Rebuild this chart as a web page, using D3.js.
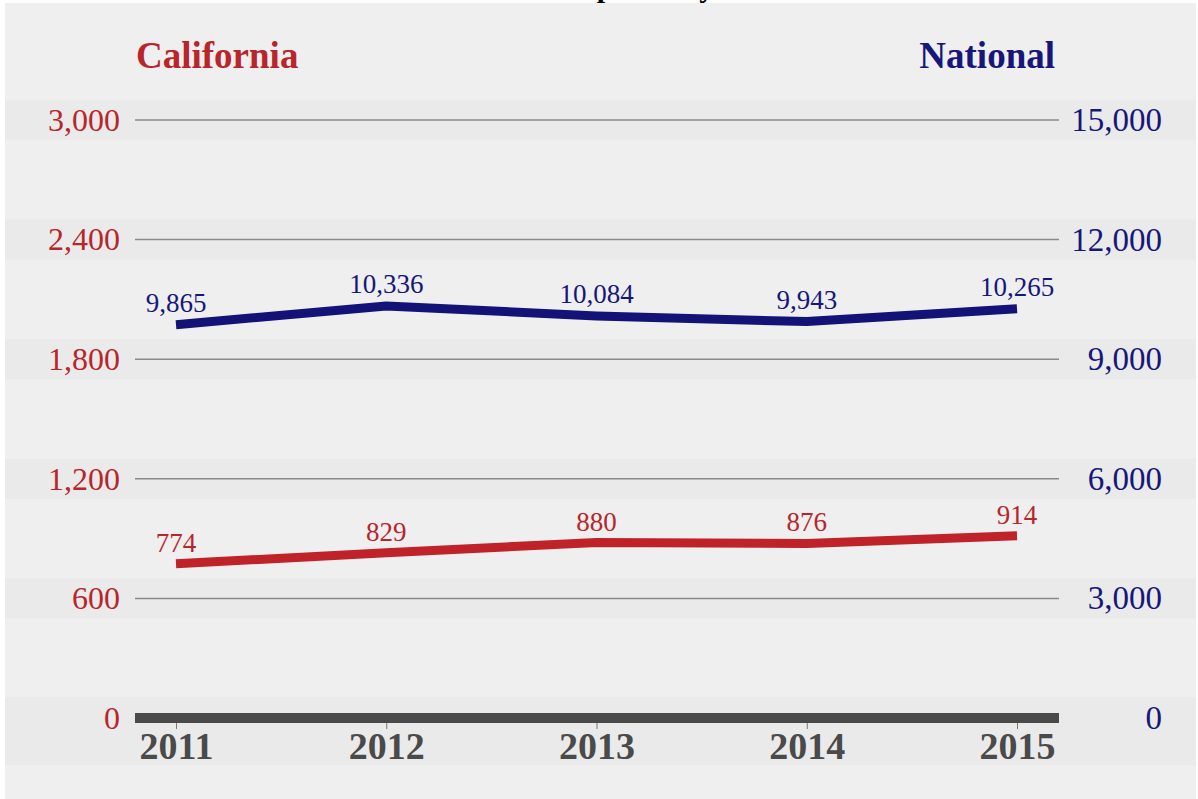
<!DOCTYPE html>
<html>
<head>
<meta charset="utf-8">
<script src="https://cdn.jsdelivr.net/npm/d3@7"></script>
<style>
  html, body { margin: 0; padding: 0; background: #fff; }
  svg { display: block; }
</style>
</head>
<body>
<div id="chart"></div>
<script>
const years = ["2011", "2012", "2013", "2014", "2015"];
const california = [774, 829, 880, 876, 914];
const national = [9865, 10336, 10084, 9943, 10265];
const leftTicks = [0, 600, 1200, 1800, 2400, 3000];
const rightTicks = [0, 3000, 6000, 9000, 12000, 15000];

const width = 1198, height = 799;
const red = "#b8252b", navy = "#17177a", dark = "#4a4a4a";
const serif = "'Liberation Serif', 'Times New Roman', serif";

const svg = d3.select("#chart").append("svg")
    .attr("width", width)
    .attr("height", height);

// background panel
svg.append("rect")
    .attr("x", 5).attr("y", 3)
    .attr("width", width - 7).attr("height", height - 3)
    .attr("fill", "#efefef");

const plotLeft = 135, plotRight = 1059;

const x = d3.scalePoint().domain(years).range([176, 1017]);
const yL = d3.scaleLinear().domain([0, 3000]).range([718, 120]);
const yR = d3.scaleLinear().domain([0, 15000]).range([718, 120]);

// faint bands around gridlines
const gBands = svg.append("g");
gBands.selectAll("rect")
    .data(leftTicks.filter(d => d > 0))
    .enter().append("rect")
    .attr("x", 5).attr("width", width - 7)
    .attr("y", d => yL(d) - 20).attr("height", 40)
    .attr("fill", "#eaeaea");
gBands.append("rect")
    .attr("x", 5).attr("width", width - 7)
    .attr("y", yL(0) - 21).attr("height", 68)
    .attr("fill", "#eaeaea");

// title, cut by the top edge as in the source image
svg.append("text")
    .attr("x", 600).attr("y", -3)
    .attr("text-anchor", "middle")
    .style("font-family", serif).style("font-weight", "bold")
    .style("font-size", "30px").attr("fill", "#000")
    .text("Finalized Adoptions by Year");

// series titles
svg.append("text")
    .attr("x", 136).attr("y", 68)
    .style("font-family", serif).style("font-weight", "bold")
    .style("font-size", "37px").attr("fill", red)
    .text("California");
svg.append("text")
    .attr("x", 1055).attr("y", 68)
    .attr("text-anchor", "end")
    .style("font-family", serif).style("font-weight", "bold")
    .style("font-size", "37px").attr("fill", navy)
    .text("National");

// gridlines
svg.append("g").selectAll("line")
    .data(leftTicks.filter(d => d > 0))
    .enter().append("line")
    .attr("x1", plotLeft).attr("x2", plotRight)
    .attr("y1", d => yL(d)).attr("y2", d => yL(d))
    .attr("stroke", "#8a8a8a").attr("stroke-width", 1.5);

// left axis
const axisL = svg.append("g")
    .attr("transform", `translate(${plotLeft},0)`)
    .call(d3.axisLeft(yL).tickValues(leftTicks).tickSize(0).tickPadding(15).tickFormat(d3.format(",")));
axisL.select(".domain").remove();
axisL.selectAll("text")
    .style("font-family", serif).style("font-size", "32px")
    .attr("fill", red);

// right axis
const axisR = svg.append("g")
    .attr("transform", `translate(1162,0)`)
    .call(d3.axisLeft(yR).tickValues(rightTicks).tickSize(0).tickPadding(0).tickFormat(d3.format(",")));
axisR.select(".domain").remove();
axisR.selectAll("text")
    .style("font-family", serif).style("font-size", "33px")
    .attr("fill", navy);

// bottom axis: thick bar, ticks, bold year labels
svg.append("rect")
    .attr("x", plotLeft).attr("y", yL(0) - 5)
    .attr("width", plotRight - plotLeft).attr("height", 10)
    .attr("fill", dark);
const axisB = svg.append("g")
    .attr("transform", `translate(0,${yL(0) + 5})`)
    .call(d3.axisBottom(x).tickSize(6).tickPadding(3));
axisB.select(".domain").remove();
axisB.selectAll("line").attr("stroke", "#777");
axisB.selectAll("text")
    .style("font-family", serif).style("font-weight", "bold")
    .style("font-size", "38px").attr("fill", dark);

// lines
const lineL = d3.line().x((d, i) => x(years[i])).y(d => yL(d));
const lineR = d3.line().x((d, i) => x(years[i])).y(d => yR(d));

svg.append("path")
    .datum(california)
    .attr("d", lineL)
    .attr("fill", "none").attr("stroke", "#c0222a")
    .attr("stroke-width", 9).attr("stroke-linejoin", "round");
svg.append("path")
    .datum(national)
    .attr("d", lineR)
    .attr("fill", "none").attr("stroke", "#121277")
    .attr("stroke-width", 9).attr("stroke-linejoin", "round");

// value labels
svg.append("g").selectAll("text")
    .data(california)
    .enter().append("text")
    .attr("x", (d, i) => x(years[i]))
    .attr("y", d => yL(d) - 12)
    .attr("text-anchor", "middle")
    .style("font-family", serif).style("font-size", "27px")
    .attr("fill", red)
    .text(d => d3.format(",")(d));
svg.append("g").selectAll("text")
    .data(national)
    .enter().append("text")
    .attr("x", (d, i) => x(years[i]))
    .attr("y", d => yR(d) - 13)
    .attr("text-anchor", "middle")
    .style("font-family", serif).style("font-size", "27px")
    .attr("fill", navy)
    .text(d => d3.format(",")(d));
</script>
</body>
</html>
